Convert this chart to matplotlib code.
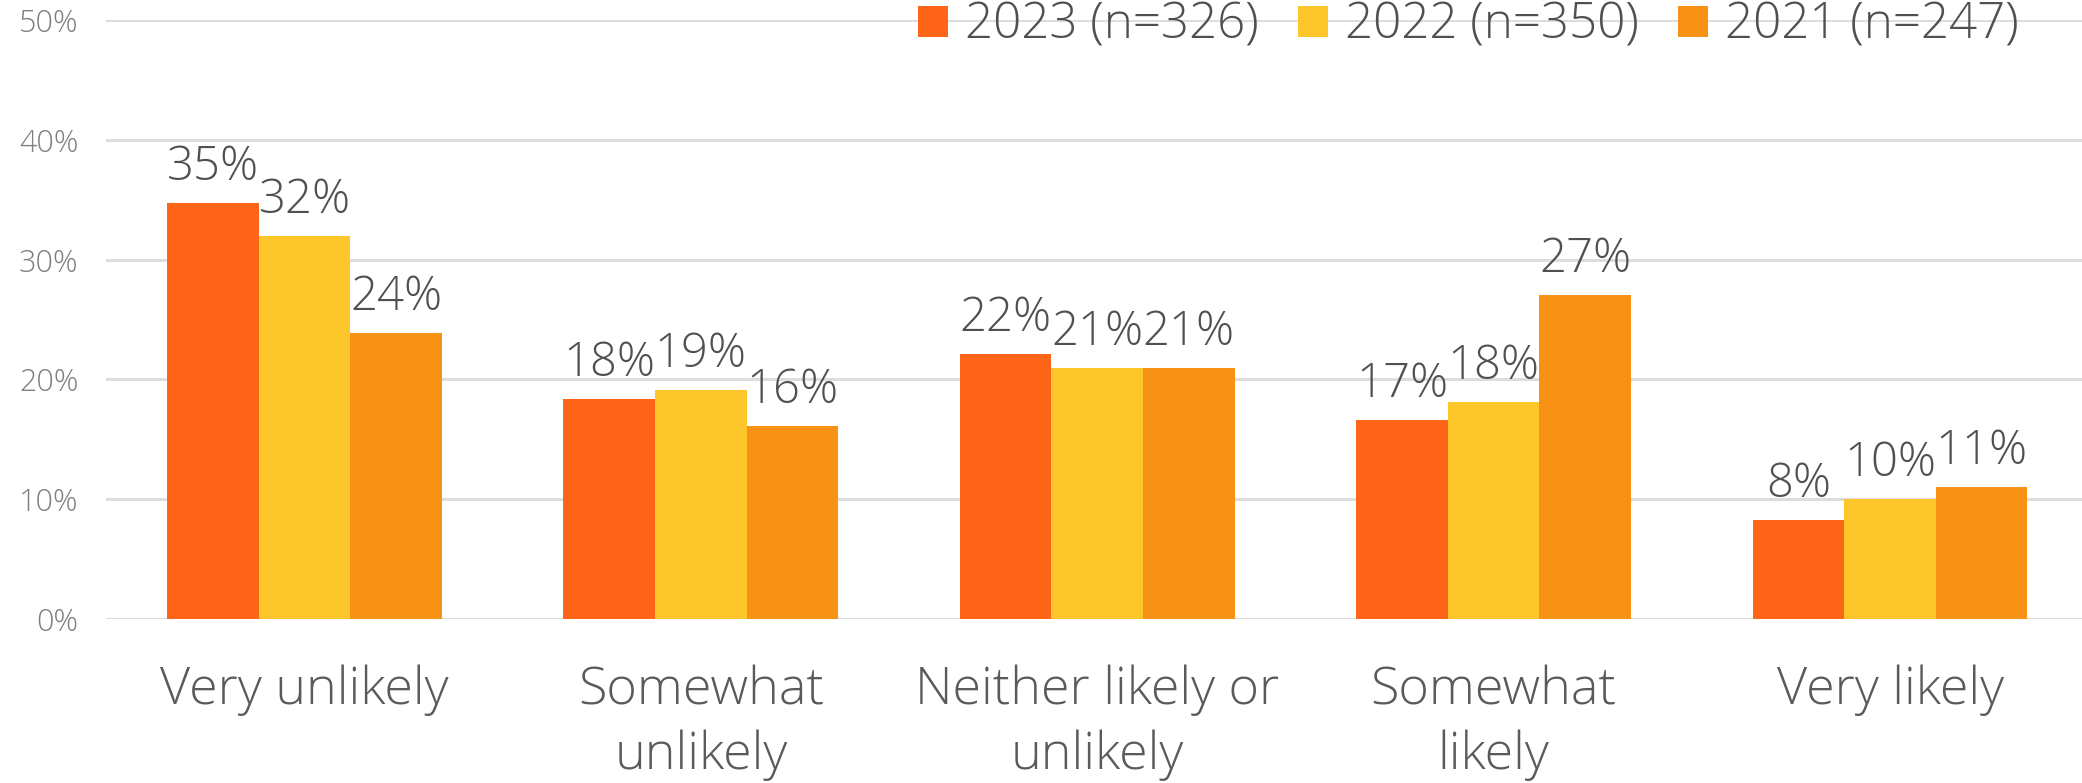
import matplotlib
matplotlib.use("Agg")
import matplotlib.pyplot as plt
import numpy as np

categories = ["Very unlikely", "Somewhat\nunlikely", "Neither likely or\nunlikely",
              "Somewhat\nlikely", "Very likely"]
series_names = ["2023 (n=326)", "2022 (n=350)", "2021 (n=247)"]
values_2023 = [34.7, 18.4, 22.1, 16.6, 8.3]
values_2022 = [32.0, 19.1, 20.95, 18.1, 10.0]
values_2021 = [23.9, 16.1, 20.95, 27.05, 11.0]
y_ticks = [0, 10, 20, 30, 40, 50]

colors = ["#FF6519", "#FDC72C", "#F79216"]
font = ["Open Sans", "DejaVu Sans"]

fig = plt.figure(figsize=(20.82, 7.83), dpi=100)
ax = fig.add_axes([0.051, 0.2095, 0.952, 0.765])

x = np.arange(len(categories))
width = 0.231
all_series = [values_2023, values_2022, values_2021]
for i, (vals, name, col) in enumerate(zip(all_series, series_names, colors)):
    pos = x + (i - 1) * width
    ax.bar(pos, vals, width=width, color=col, label=name, zorder=2)
    for px, v in zip(pos, vals):
        ax.text(px, v + 0.9, f"{v:.0f}%", ha="center", va="bottom",
                fontsize=34, color="#505050", family=font, weight="light", zorder=3)

ax.set_xlim(-0.5, 4.5)
ax.set_ylim(0, 50)
ax.set_yticks(y_ticks)
ax.set_yticklabels([f"{t}%" for t in y_ticks], family=font, fontsize=22,
                   color="#7F7F7F", weight="light")
ax.set_xticks(x)
ax.set_xticklabels(categories, family=font, fontsize=37.5, color="#5A5A5A",
                   weight="light", linespacing=1.34)
ax.tick_params(axis="y", length=0, pad=20)
ax.tick_params(axis="x", length=0, pad=33)
ax.grid(axis="y", color="#DDDDDD", linewidth=2.2, zorder=0)
for s in ax.spines.values():
    s.set_visible(False)

leg = ax.legend(loc="upper right", bbox_to_anchor=(0.975, 1.065), ncol=3, frameon=False,
                prop={"family": font, "size": 35.5, "weight": "light"},
                handlelength=0.6, handleheight=0.6, handletextpad=0.35,
                columnspacing=0.8, borderaxespad=0)
for t in leg.get_texts():
    t.set_color("#505050")

fig.savefig("out.png", dpi=100)
